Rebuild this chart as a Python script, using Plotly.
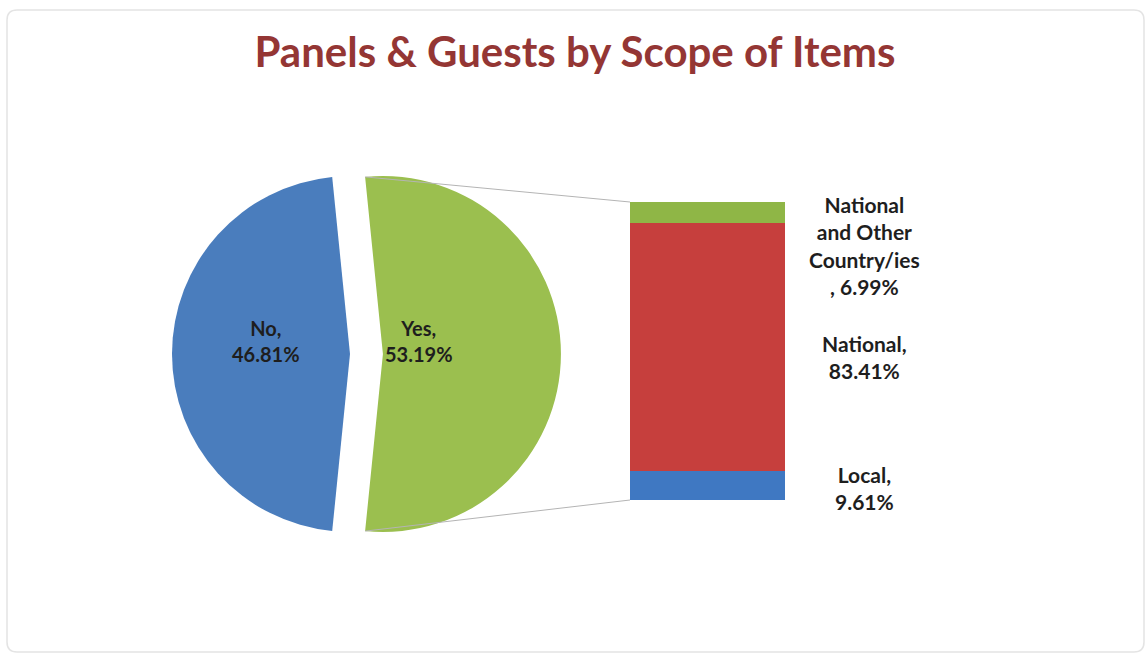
import math
import plotly.graph_objects as go

# ---- data -------------------------------------------------------------
pie_labels = ["No", "Yes"]
pie_values = [46.81, 53.19]

bar_labels = ["Local", "National", "National and Other Country/ies"]
bar_values = [9.61, 83.41, 6.99]
# how each bar label is wrapped before its value
bar_label_lead = ["Local,<br>", "National,<br>", "National<br>and Other<br>Country/ies<br>, "]

title_text = "Panels &amp; Guests by Scope of Items"

# ---- style ------------------------------------------------------------
W, H = 1148, 655
FONT = "Lato"
pie_colors = ["#4a7dbd", "#9bbf4f"]
bar_colors = ["#3f78c2", "#c63f3d", "#8fb646"]
label_color = "#1e1e1e"

# pie geometry in pixels (centre of the un-pulled slice, radius, pull)
PIE_CX, PIE_CY, PIE_R, PULL = 350, 354, 178, 0.185
# bar box in pixels
BAR_X0, BAR_X1, BAR_TOP, BAR_BOTTOM = 630, 785, 202, 500


def px_x(x):
    return x / W


def px_y(y):
    return 1 - y / H


half = PIE_R * (1 + PULL)
pie_domain_x = [px_x(PIE_CX - half), px_x(PIE_CX + half)]
pie_domain_y = [px_y(PIE_CY + half), px_y(PIE_CY - half)]

total_pie = sum(pie_values)
no_deg = pie_values[0] / total_pie * 360
yes_deg = pie_values[1] / total_pie * 360
rotation = 270 - no_deg / 2  # "No" centred on the left, "Yes" on the right

fig = go.Figure()

fig.add_trace(go.Pie(
    labels=pie_labels,
    values=pie_values,
    sort=False,
    direction="clockwise",
    rotation=rotation,
    pull=[0, PULL],
    marker=dict(colors=pie_colors, line=dict(width=0)),
    textinfo="none",
    hoverinfo="label+percent",
    showlegend=False,
    domain=dict(x=pie_domain_x, y=pie_domain_y),
))

for name, val, col in zip(bar_labels, bar_values, bar_colors):
    fig.add_trace(go.Bar(
        x=[0], y=[val], width=[1], name=name,
        marker=dict(color=col, line=dict(width=0)),
        showlegend=False, hoverinfo="name+y",
    ))

bar_total = sum(bar_values)

# connector lines from the pulled slice edges to the bar corners
yes_start = math.radians(rotation + no_deg)
yes_stop = math.radians(rotation + no_deg + yes_deg)
ycx = PIE_CX + PULL * PIE_R
ycy = PIE_CY
p_top = (ycx + PIE_R * math.sin(yes_start), ycy - PIE_R * math.cos(yes_start))
p_bot = (ycx + PIE_R * math.sin(yes_stop), ycy - PIE_R * math.cos(yes_stop))

shapes = []
for (sx, sy), by in ((p_top, BAR_TOP), (p_bot, BAR_BOTTOM)):
    shapes.append(dict(
        type="line", xref="paper", yref="paper",
        x0=px_x(sx), y0=px_y(sy), x1=px_x(BAR_X0), y1=px_y(by),
        line=dict(color="#b4b4b4", width=1),
    ))

# rounded card outline
cx0, cy0, cx1, cy1, rr = 7, 10, 1144, 652, 10
path = (
    f"M {px_x(cx0 + rr)} {px_y(cy0)} L {px_x(cx1 - rr)} {px_y(cy0)} "
    f"Q {px_x(cx1)} {px_y(cy0)} {px_x(cx1)} {px_y(cy0 + rr)} "
    f"L {px_x(cx1)} {px_y(cy1 - rr)} "
    f"Q {px_x(cx1)} {px_y(cy1)} {px_x(cx1 - rr)} {px_y(cy1)} "
    f"L {px_x(cx0 + rr)} {px_y(cy1)} "
    f"Q {px_x(cx0)} {px_y(cy1)} {px_x(cx0)} {px_y(cy1 - rr)} "
    f"L {px_x(cx0)} {px_y(cy0 + rr)} "
    f"Q {px_x(cx0)} {px_y(cy0)} {px_x(cx0 + rr)} {px_y(cy0)} Z"
)
shapes.append(dict(type="path", xref="paper", yref="paper", path=path,
                   line=dict(color="#e4e4e4", width=1.5), layer="below"))

annotations = []
# pie slice labels
pie_label_pos = [(266, 341), (419, 341)]
for lab, val, (ax, ay) in zip(pie_labels, pie_values, pie_label_pos):
    annotations.append(dict(
        xref="paper", yref="paper", x=px_x(ax), y=px_y(ay),
        text=f"<b>{lab},<br>{val:.2f}%</b>", showarrow=False,
        font=dict(family=FONT, size=20, color=label_color),
        xanchor="center", yanchor="middle", align="center",
    ))

# bar segment labels, to the right of the bar
bar_label_py = [488, 357, 245]
for lead, val, py in zip(bar_label_lead, bar_values, bar_label_py):
    annotations.append(dict(
        xref="paper", yref="paper", x=px_x(864), y=px_y(py),
        text=f"<b>{lead}{val:.2f}%</b>", showarrow=False,
        font=dict(family=FONT, size=21, color=label_color),
        xanchor="center", yanchor="middle", align="center",
    ))

fig.update_layout(
    width=W, height=H,
    margin=dict(l=0, r=0, t=0, b=0),
    paper_bgcolor="white", plot_bgcolor="rgba(0,0,0,0)",
    barmode="stack",
    title=dict(
        text=f"<b>{title_text}</b>",
        x=px_x(575), xanchor="center", xref="paper",
        y=px_y(52), yanchor="middle", yref="paper",
        font=dict(family=FONT, size=42, color="#943634"),
    ),
    xaxis=dict(domain=[px_x(BAR_X0), px_x(BAR_X1)], range=[-0.5, 0.5],
               visible=False, fixedrange=True),
    yaxis=dict(domain=[px_y(BAR_BOTTOM), px_y(BAR_TOP)], range=[0, bar_total],
               visible=False, fixedrange=True),
    shapes=shapes,
    annotations=annotations,
)

fig.write_html("out.html", config=dict(displayModeBar=False))
